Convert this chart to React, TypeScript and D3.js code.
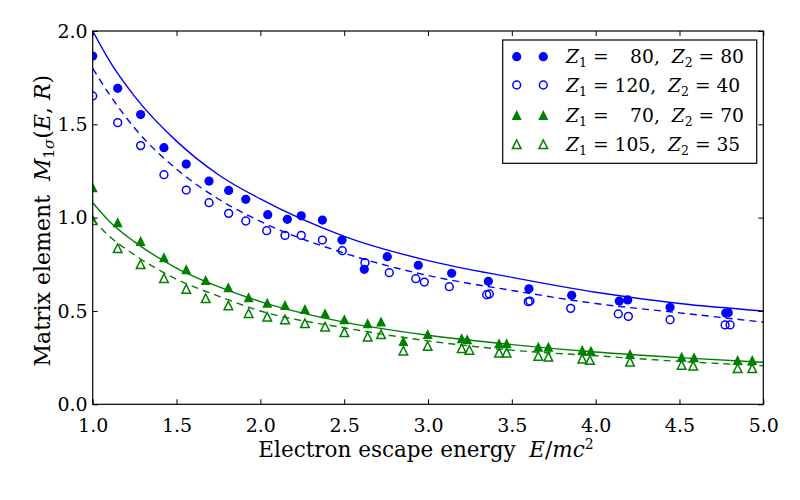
import React, { useEffect, useRef } from "react";
import * as d3 from "d3";

// measured points, [E/mc^2, M]
const z80x80: [number, number][] = [
	[1.0, 1.866], [1.149, 1.693], [1.286, 1.552], [1.425, 1.375], [1.558, 1.287], [1.694, 1.196],
	[1.811, 1.146], [1.913, 1.098], [2.044, 1.016], [2.161, 0.991], [2.244, 1.01], [2.37, 0.987],
	[2.487, 0.88], [2.62, 0.723], [2.757, 0.791], [2.942, 0.745], [3.141, 0.702], [3.36, 0.659],
	[3.602, 0.619], [3.857, 0.584], [4.141, 0.553], [4.191, 0.559], [4.444, 0.52], [4.776, 0.489],
	[4.791, 0.491],
];

const z120x40: [number, number][] = [
	[1.0, 1.652], [1.149, 1.509], [1.286, 1.386], [1.425, 1.23], [1.558, 1.148], [1.694, 1.08],
	[1.811, 1.023], [1.913, 0.982], [2.038, 0.93], [2.147, 0.905], [2.244, 0.905], [2.37, 0.88],
	[2.489, 0.823], [2.624, 0.759], [2.769, 0.705], [2.927, 0.673], [2.978, 0.655], [3.127, 0.63],
	[3.35, 0.587], [3.366, 0.591], [3.598, 0.55], [3.608, 0.553], [3.851, 0.514], [4.135, 0.484],
	[4.195, 0.471], [4.444, 0.453], [4.772, 0.425], [4.802, 0.425],
];

const z70x70: [number, number][] = [
	[1.0, 1.163], [1.149, 0.975], [1.286, 0.875], [1.425, 0.788], [1.558, 0.723], [1.674, 0.666],
	[1.809, 0.627], [1.93, 0.573], [2.041, 0.544], [2.147, 0.532], [2.266, 0.511], [2.386, 0.488],
	[2.501, 0.455], [2.64, 0.434], [2.72, 0.443], [2.853, 0.339], [2.998, 0.377], [3.201, 0.354],
	[3.234, 0.348], [3.424, 0.327], [3.469, 0.327], [3.658, 0.309], [3.718, 0.309], [3.92, 0.291],
	[3.972, 0.287], [4.205, 0.269], [4.513, 0.255], [4.587, 0.252], [4.847, 0.237], [4.934, 0.237],
];

const z105x35: [number, number][] = [
	[1.0, 0.987], [1.149, 0.836], [1.286, 0.75], [1.425, 0.675], [1.558, 0.618], [1.674, 0.568],
	[1.809, 0.53], [1.93, 0.488], [2.041, 0.469], [2.147, 0.455], [2.266, 0.434], [2.386, 0.416],
	[2.501, 0.386], [2.64, 0.362], [2.72, 0.375], [2.853, 0.287], [2.998, 0.312], [3.201, 0.3],
	[3.247, 0.291], [3.424, 0.277], [3.469, 0.277], [3.658, 0.259], [3.718, 0.255], [3.92, 0.244],
	[3.966, 0.237], [4.205, 0.228], [4.513, 0.211], [4.582, 0.207], [4.847, 0.193], [4.934, 0.193],
];

// fitted curves
const curveX = [1.0, 1.1, 1.25, 1.5, 1.75, 2.0, 2.5, 3.0, 3.5, 4.0, 4.5, 5.0];
const blueSolid = [2.0, 1.84, 1.65, 1.41, 1.23, 1.1, 0.9, 0.77, 0.68, 0.6, 0.54, 0.5];
const blueDashed = [1.8, 1.66, 1.48, 1.26, 1.1, 0.98, 0.81, 0.69, 0.61, 0.54, 0.49, 0.44];
const greenSolid = [1.08, 0.98, 0.87, 0.73, 0.63, 0.55, 0.44, 0.37, 0.32, 0.28, 0.25, 0.225];
const greenDashed = [0.99, 0.9, 0.8, 0.67, 0.58, 0.5, 0.41, 0.34, 0.29, 0.26, 0.23, 0.207];

const xTicks = [1.0, 1.5, 2.0, 2.5, 3.0, 3.5, 4.0, 4.5, 5.0];
const yTicks = [0.0, 0.5, 1.0, 1.5, 2.0];

const legendZ1 = ["\u2007\u200980", "120", "\u2007\u200970", "105"];
const legendZ2 = ["80", "40", "70", "35"];

const BLUE = "#0000ff";
const GREEN = "#008000";
const FONT = "DejaVu Serif, serif";

type Marker = "filledCircle" | "openCircle" | "filledTri" | "openTri";

export default function App() {
	const svgRef = useRef<SVGSVGElement | null>(null);

	useEffect(() => {
		if (!svgRef.current) return;
		const width = 800;
		const height = 500;
		const margin = { top: 31, right: 36.7, bottom: 95.7, left: 92.7 };

		const x = d3.scaleLinear().domain([1, 5]).range([margin.left, width - margin.right]);
		const y = d3.scaleLinear().domain([0, 2]).range([height - margin.bottom, margin.top]);

		const svg = d3.select(svgRef.current);
		svg.selectAll("*").remove();

		svg.append("defs")
			.append("clipPath")
			.attr("id", "plot-clip")
			.append("rect")
			.attr("x", x(1))
			.attr("y", y(2))
			.attr("width", x(5) - x(1))
			.attr("height", y(0) - y(2));

		const drawMarker = (g: d3.Selection<SVGGElement, unknown, null, undefined>, kind: Marker, cx: number, cy: number) => {
			const color = kind === "filledCircle" || kind === "openCircle" ? BLUE : GREEN;
			if (kind === "filledCircle") {
				g.append("circle").attr("cx", cx).attr("cy", cy).attr("r", 4.6).attr("fill", color);
			} else if (kind === "openCircle") {
				g.append("circle").attr("cx", cx).attr("cy", cy).attr("r", 3.9)
					.attr("fill", "none").attr("stroke", color).attr("stroke-width", 1.5);
			} else {
				const s = kind === "filledTri" ? 5 : 4.3;
				const tri = `M${cx},${cy - s}L${cx + s},${cy + s}L${cx - s},${cy + s}Z`;
				if (kind === "filledTri") g.append("path").attr("d", tri).attr("fill", color);
				else g.append("path").attr("d", tri).attr("fill", "none").attr("stroke", color).attr("stroke-width", 1.5);
			}
		};

		const plot = svg.append("g").attr("clip-path", "url(#plot-clip)");

		const series: { pts: [number, number][]; kind: Marker }[] = [
			{ pts: z80x80, kind: "filledCircle" },
			{ pts: z120x40, kind: "openCircle" },
			{ pts: z70x70, kind: "filledTri" },
			{ pts: z105x35, kind: "openTri" },
		];
		series.forEach((s) => s.pts.forEach(([a, b]) => drawMarker(plot, s.kind, x(a), y(b))));

		const line = d3
			.line<number>()
			.x((_, i) => x(curveX[i]))
			.y((d) => y(d))
			.curve(d3.curveMonotoneX);

		const curves = [
			{ vals: blueSolid, color: BLUE, dash: null },
			{ vals: blueDashed, color: BLUE, dash: "7,5" },
			{ vals: greenSolid, color: GREEN, dash: null },
			{ vals: greenDashed, color: GREEN, dash: "7,5" },
		];
		curves.forEach((c) => {
			plot.append("path")
				.attr("d", line(c.vals))
				.attr("fill", "none")
				.attr("stroke", c.color)
				.attr("stroke-width", 1.4)
				.attr("stroke-dasharray", c.dash);
		});

		// axes with inward ticks on all sides
		const styleAxis = (g: d3.Selection<SVGGElement, unknown, null, undefined>) => {
			g.select(".domain").remove();
			g.selectAll(".tick line").attr("stroke", "#000").attr("stroke-width", 1);
			g.selectAll("text").attr("font-family", FONT).attr("font-size", 19).attr("fill", "#000");
		};
		svg.append("g")
			.attr("transform", `translate(0,${y(0)})`)
			.call(d3.axisBottom(x).tickValues(xTicks).tickSize(-5).tickPadding(14.5).tickFormat(d3.format(".1f")))
			.call(styleAxis);
		svg.append("g")
			.attr("transform", `translate(0,${y(2)})`)
			.call(d3.axisTop(x).tickValues(xTicks).tickSize(-5).tickFormat(() => ""))
			.call(styleAxis);
		svg.append("g")
			.attr("transform", `translate(${x(1)},0)`)
			.call(d3.axisLeft(y).tickValues(yTicks).tickSize(-5).tickPadding(5).tickFormat(d3.format(".1f")))
			.call(styleAxis);
		svg.append("g")
			.attr("transform", `translate(${x(5)},0)`)
			.call(d3.axisRight(y).tickValues(yTicks).tickSize(-5).tickFormat(() => ""))
			.call(styleAxis);

		svg.append("rect")
			.attr("x", x(1))
			.attr("y", y(2))
			.attr("width", x(5) - x(1))
			.attr("height", y(0) - y(2))
			.attr("fill", "none")
			.attr("stroke", "#000")
			.attr("stroke-width", 1.2);

		// x label
		const xl = svg.append("text")
			.attr("x", (x(1) + x(5)) / 2 - 2)
			.attr("y", 457)
			.attr("text-anchor", "middle")
			.attr("font-family", FONT)
			.attr("font-size", 21.5)
			.style("white-space", "pre");
		xl.append("tspan").text("Electron escape energy  ");
		xl.append("tspan").attr("font-style", "italic").text("E");
		xl.append("tspan").text("/");
		xl.append("tspan").attr("font-style", "italic").text("mc");
		xl.append("tspan").attr("font-size", 14).attr("dy", -8).text("2");

		// y label
		const yl = svg.append("text")
			.attr("transform", `translate(50,${(y(0) + y(2)) / 2 + 3}) rotate(-90)`)
			.attr("text-anchor", "middle")
			.attr("font-family", FONT)
			.attr("font-size", 22)
			.style("white-space", "pre");
		yl.append("tspan").text("Matrix element  ");
		yl.append("tspan").attr("font-style", "italic").text("M");
		yl.append("tspan").attr("font-size", 15).attr("dy", 4).text("1");
		yl.append("tspan").attr("font-size", 15).attr("font-style", "italic").text("\u03c3");
		yl.append("tspan").attr("dy", -4).text("(");
		yl.append("tspan").attr("font-style", "italic").text("E");
		yl.append("tspan").text(", ");
		yl.append("tspan").attr("font-style", "italic").text("R");
		yl.append("tspan").text(")");

		// legend
		const lg = svg.append("g");
		lg.append("rect")
			.attr("x", 502.7)
			.attr("y", 40)
			.attr("width", 254)
			.attr("height", 123.3)
			.attr("fill", "#fff")
			.attr("stroke", "#000")
			.attr("stroke-width", 1.2);
		const rowY = [56.7, 85, 115, 144.3];
		series.forEach((s, i) => {
			drawMarker(lg, s.kind, 516.7, rowY[i]);
			drawMarker(lg, s.kind, 543.3, rowY[i]);
			const t = lg.append("text")
				.attr("x", 566)
				.attr("y", rowY[i] + 6.5)
				.attr("font-family", FONT)
				.attr("font-size", 18.7)
				.style("white-space", "pre");
			t.append("tspan").attr("font-style", "italic").text("Z");
			t.append("tspan").attr("font-size", 12.5).attr("dy", 4).text("1");
			t.append("tspan").attr("dy", -4).text(` = ${legendZ1[i]},  `);
			t.append("tspan").attr("font-style", "italic").text("Z");
			t.append("tspan").attr("font-size", 12.5).attr("dy", 4).text("2");
			t.append("tspan").attr("dy", -4).text(` = ${legendZ2[i]}`);
		});
	}, []);

	return (
		<svg
			ref={svgRef}
			width={800}
			height={500}
			style={{ position: "absolute", left: 0, top: 0, background: "#fff" }}
		/>
	);
}
